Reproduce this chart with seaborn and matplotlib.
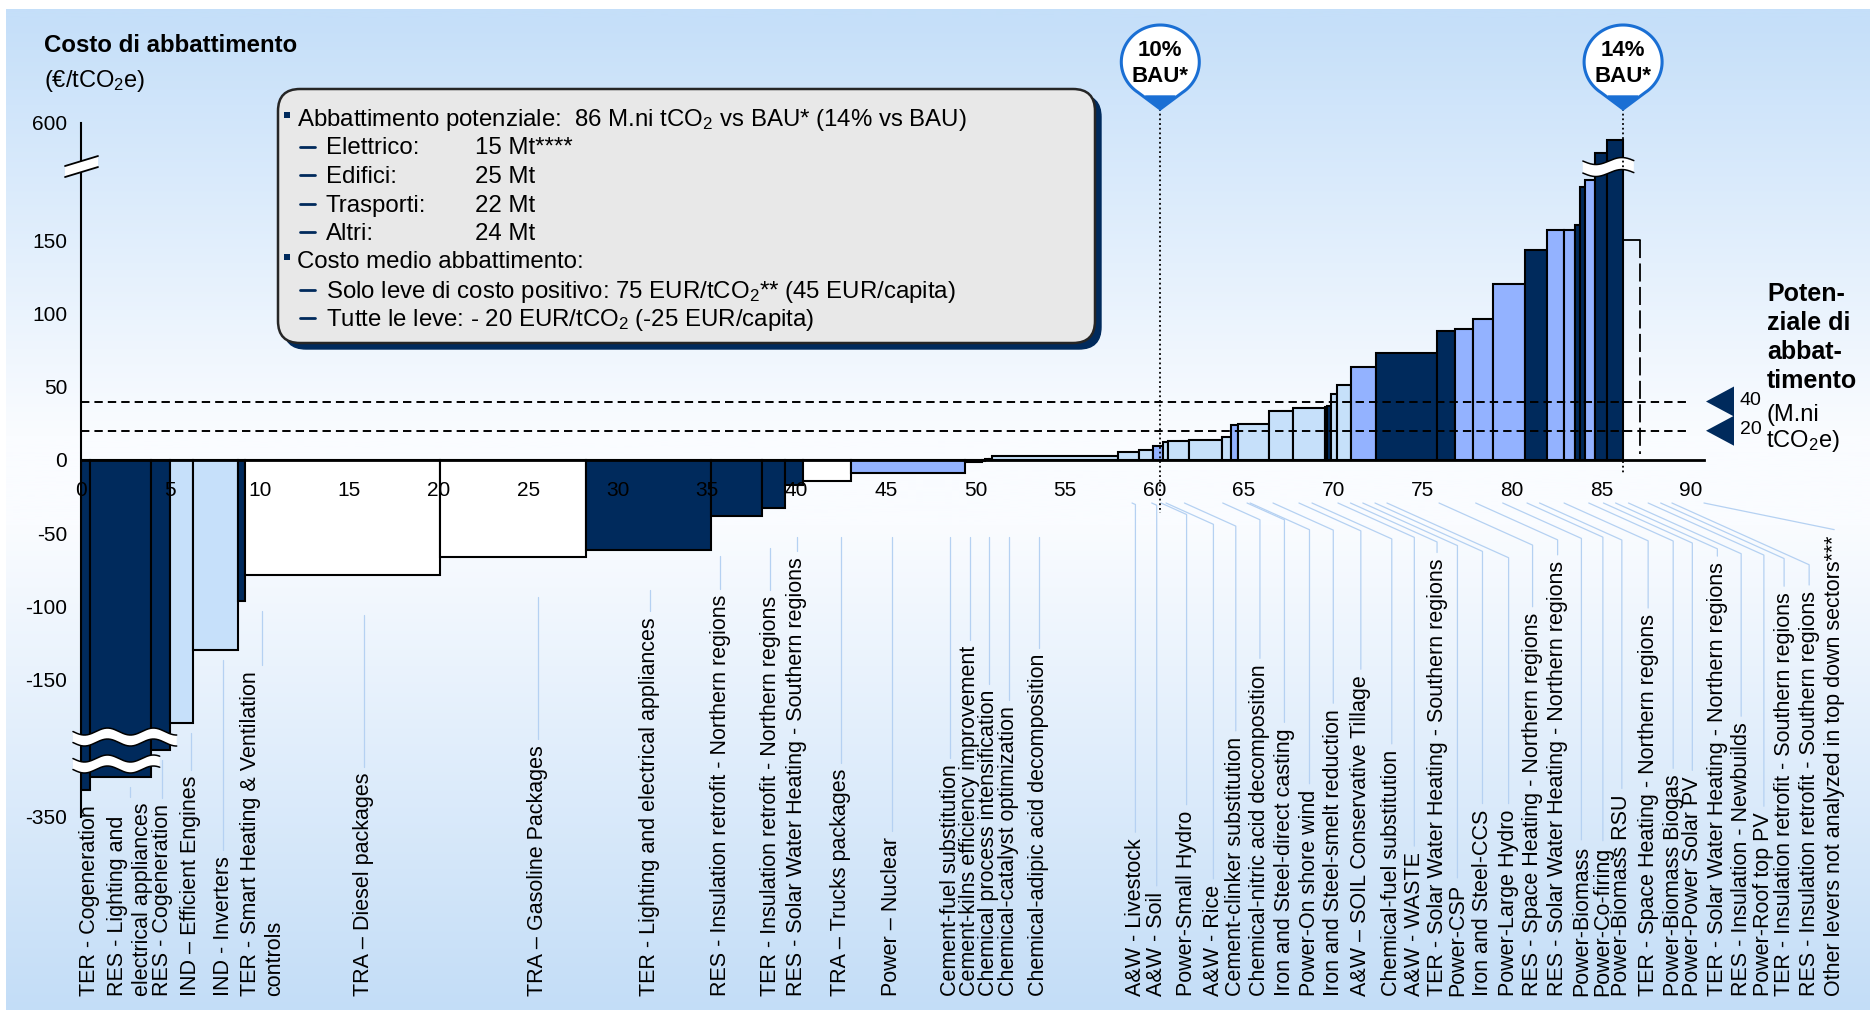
# -*- coding: utf-8 -*-
"""
Curva dei costi di abbattimento (MACC) - ricostruzione con seaborn/matplotlib
"""
import numpy as np
import matplotlib
matplotlib.use('Agg')
import matplotlib.pyplot as plt
import seaborn as sns
from matplotlib.patches import Polygon, FancyBboxPatch, Rectangle

# ============================================================
# 0. stile
# ============================================================
sns.set_theme(style='white', rc={'axes.edgecolor': 'black', 'text.color': 'black',
                                 'xtick.color': 'black', 'ytick.color': 'black'})
plt.rcParams['font.family'] = ['Liberation Sans', 'DejaVu Sans']
plt.rcParams['mathtext.fontset'] = 'custom'
plt.rcParams['mathtext.rm'] = 'Liberation Sans'
plt.rcParams['mathtext.it'] = 'Liberation Sans:italic'
plt.rcParams['mathtext.bf'] = 'Liberation Sans:bold'
plt.rcParams['axes.unicode_minus'] = False

# ============================================================
# 1. dati
# ============================================================
levers = [
    'TER - Cogeneration', 'RES - Lighting and\nelectrical appliances', 'RES - Cogeneration',
    'IND – Efficient Engines', 'IND - Inverters', 'TER - Smart Heating & Ventilation\ncontrols',
    'TRA – Diesel packages', 'TRA – Gasoline Packages', 'TER - Lighting and electrical appliances',
    'RES - Insulation retrofit - Northern regions', 'TER - Insulation retrofit - Northern regions',
    'RES - Solar Water Heating - Southern regions', 'TRA – Trucks packages', 'Power – Nuclear',
    'Cement-fuel substitution', 'Cement-kilns efficiency improvement',
    'Chemical process intensification', 'Chemical-catalyst optimization',
    'Chemical-adipic acid decomposition', 'A&W - Livestock', 'A&W - Soil', 'Power-Small Hydro',
    'A&W - Rice', 'Cement-clinker substitution', 'Chemical-nitric acid decomposition',
    'Iron and Steel-direct casting', 'Power-On shore wind', 'Iron and Steel-smelt reduction',
    'A&W – SOIL Conservative Tillage', 'Chemical-fuel substitution', 'A&W - WASTE',
    'TER - Solar Water Heating - Southern regions', 'Power-CSP', 'Iron and Steel-CCS',
    'Power-Large Hydro', 'RES - Space Heating - Northern regions',
    'RES - Solar Water Heating - Northern regions', 'Power-Biomass', 'Power-Co-firing',
    'Power-Biomass RSU', 'TER - Space Heating - Northern regions', 'Power-Biomass Biogas',
    'Power-Power Solar PV', 'TER - Solar Water Heating - Northern regions',
    'RES - Insulation - Newbuilds', 'Power-Roof top PV',
    'TER - Insulation retrofit - Southern regions', 'RES - Insulation retrofit - Southern regions',
    'Other levers not analyzed in top down sectors***',
]
# potenziale (M.ni tCO2e) di ogni leva
widths = [0.5, 3.4, 1.07, 1.31, 2.48, 0.41, 10.9, 8.16, 6.99, 2.83, 1.3, 1.03, 2.66, 6.37,
          0.94, 0.2, 0.2, 0.15, 7.08, 1.18, 0.74, 0.56, 0.29, 1.18, 1.87, 0.47, 0.42, 1.73,
          1.31, 1.8, 0.1, 0.27, 0.29, 0.78, 1.41, 3.43, 0.99, 0.99, 1.12, 1.8, 1.22, 0.97,
          0.63, 0.26, 0.28, 0.56, 0.65, 0.92, 0.93]
# costo di abbattimento (EUR/tCO2e)
costs = [-295, -270, -215, -180, -130, -96.5, -79, -66.6, -61.6, -38.3, -32.6, -17.1, -14.4,
         -8.7, -1.6, -0.8, 0.5, 1.0, 2.7, 5.5, 6.6, 9.6, 12.5, 13.0, 13.9, 15.5, 23.9, 24.8,
         33.7, 35.3, 36.0, 36.9, 45.3, 51.3, 63.8, 73.0, 88.2, 89.8, 96.4, 120.4, 143.4, 157.3,
         157.3, 160.7, 186.5, 191.5, 335, 450, 150.5]
tones = ['dark', 'dark', 'dark', 'light', 'light', 'dark', 'white', 'white', 'dark', 'dark',
         'dark', 'dark', 'white', 'mid', 'light', 'light', 'light', 'light', 'light', 'light',
         'light', 'mid', 'light', 'light', 'light', 'light', 'mid', 'light', 'light', 'light',
         'light', 'dark', 'light', 'light', 'mid', 'dark', 'dark', 'mid', 'mid', 'mid', 'dark',
         'mid', 'mid', 'dark', 'dark', 'mid', 'dark', 'dark', 'other']

y_ticks = [600, 150, 100, 50, 0, -50, -100, -150, -350]
x_ticks = list(range(0, 95, 5))
potential_marks = [40, 20]
bau_pct = ['10%', '14%']
bau_x = [60.33, 86.2]

box_head = ['Abbattimento potenziale:  86 M.ni tCO$_2$ vs BAU* (14% vs BAU)',
            'Costo medio abbattimento:']
box_sectors = ['Elettrico:', 'Edifici:', 'Trasporti:', 'Altri:']
box_mt = ['15 Mt****', '25 Mt', '22 Mt', '24 Mt']
box_costs = ['Solo leve di costo positivo: 75 EUR/tCO$_2$** (45 EUR/capita)',
             'Tutte le leve: - 20 EUR/tCO$_2$ (-25 EUR/capita)']

# ============================================================
# 2. layout
# ============================================================
W, H = 1870, 1010
AX_L, AX_R, AX_T, AX_B = 81, 1703.6, 123, 817
K_TOP, K_BOT = 30.5 / 400, 54.2 / 160
DARK, MID, LIGHT = '#002a5c', '#93b2ff', '#c6e0fa'
BLUE = '#1a6fd4'
LEADER = '#b5d1f2'
TONE = {'dark': DARK, 'mid': MID, 'light': LIGHT, 'white': 'white', 'other': 'none'}

# posizione (in M.ni t) delle etichette ruotate e attacco delle linee guida
label_x = [0.47, 2.74, 4.54, 6.14, 7.94, 10.14, 15.8, 25.54, 31.8, 35.74, 38.54, 40.0, 42.47,
           45.33, 48.6, 49.67, 50.74, 51.87, 53.54, 58.94, 60.13, 61.8, 63.3, 64.55, 65.9,
           67.27, 68.67, 70.0, 71.54, 73.27, 74.53, 75.8, 76.94, 78.34, 79.8, 81.14, 82.54,
           83.87, 85.07, 86.13, 87.6, 89.0, 90.07, 91.47, 92.8, 94.07, 95.2, 96.6, 98.0]
leader_x0 = [58.75, 59.85, 60.37, 60.65, 61.68, 63.82, 65.18, 65.35, 66.63, 68.08, 68.81,
             70.26, 70.96, 71.65, 72.33, 73.0, 75.91, 77.96, 79.47, 80.83, 81.53, 82.9, 84.28,
             85.1, 85.78, 86.5, 87.6, 88.3, 88.93, 90.72]
N_LEFT = 19


def fwd(v):
    v = np.asarray(v, dtype=float)
    return np.where(v > 200, 200 + (v - 200) * K_TOP,
                    np.where(v < -190, -190 + (v + 190) * K_BOT, v))


def inv(t):
    t = np.asarray(t, dtype=float)
    return np.where(t > 200, 200 + (t - 200) / K_TOP,
                    np.where(t < -190, -190 + (t + 190) / K_BOT, t))


fig = plt.figure(figsize=(W / 100, H / 100), dpi=100)
fig.patch.set_facecolor('white')

# sfondo sfumato
bg = fig.add_axes([0, 0, 1, 1], zorder=0)
ys = np.arange(H)
stops_y = [9, 430, 520, 1010]
stops_c = np.array([(197, 223, 249), (250, 252, 255), (250, 252, 255), (195, 221, 247)]) / 255
grad = np.stack([np.interp(ys, stops_y, stops_c[:, k]) for k in range(3)], axis=-1)[:, None, :]
bg.imshow(grad, extent=[6, W, H, 9], aspect='auto')
bg.set_xlim(0, W)
bg.set_ylim(H, 0)
bg.axis('off')

# ============================================================
# 3. grafico principale
# ============================================================
ax = fig.add_axes([AX_L / W, 1 - AX_B / H, (AX_R - AX_L) / W, (AX_B - AX_T) / H], zorder=1)
ax.patch.set_alpha(0)
ax.set_axisbelow(False)
ax.set_yscale('function', functions=(fwd, inv))
ax.set_xlim(0, 90.7)
ax.set_ylim(-350, 600)

widths_a = np.array(widths)
costs_a = np.array(costs)
starts = np.concatenate([[0], np.cumsum(widths_a)[:-1]])
keep = np.array([t != 'other' for t in tones])
ax.bar(starts[keep], costs_a[keep], width=widths_a[keep], align='edge',
       color=[TONE[t] for t in np.array(tones)[keep]], edgecolor='black', linewidth=1.5, zorder=2)

# altre leve: riquadro tratteggiato
io = tones.index('other')
ox0, ox1, oc = starts[io], starts[io] + widths[io], costs[io]
ax.plot([ox0, ox1], [oc, oc], color='black', lw=1.3, zorder=3)
ax.plot([ox1, ox1], [oc, 4], color='black', lw=1.3, dashes=(10, 3), zorder=3)

ax.hlines(potential_marks, 0, 89.8, colors='black', linestyles=(0, (4.3, 2.6)),
          linewidth=1.4, zorder=3)

sns.despine(ax=ax, top=True, right=True)
ax.spines['bottom'].set_position(('data', 0))
ax.spines['bottom'].set_linewidth(2.0)
ax.spines['left'].set_linewidth(1.5)
ax.set_xticks(x_ticks)
ax.set_xticklabels([str(v) for v in x_ticks])
ax.set_yticks(y_ticks)
ax.set_yticklabels([str(v) for v in y_ticks])
ax.tick_params(axis='x', length=0, pad=15, labelsize=15)
ax.tick_params(axis='y', length=0, pad=10, labelsize=15)
ax.minorticks_off()
ax.grid(False)

# ============================================================
# 4. annotazioni (coordinate in pixel)
# ============================================================
ov = fig.add_axes([0, 0, 1, 1], zorder=3)
ov.set_xlim(0, W)
ov.set_ylim(H, 0)
ov.axis('off')


def to_px(x, v):
    dx, dy = ax.transData.transform((x, v))
    return dx, H - dy


# titolo asse
ov.text(44, 45, 'Costo di abbattimento', fontsize=17.3, fontweight='bold', va='center')
ov.text(44, 87, '(€/tCO$_2$e)', fontsize=17, va='baseline')

# interruzioni dell'asse e delle barre
ax0, yb = to_px(0, 205)
ov.add_patch(Polygon([(ax0 - 16, yb - 1), (ax0 + 17, yb - 11), (ax0 + 17, yb),
                      (ax0 - 16, yb + 10)], closed=True, facecolor='white', edgecolor='none'))
ov.plot([ax0 - 16, ax0 + 17], [yb - 1, yb - 11], color='black', lw=1.3)
ov.plot([ax0 - 16, ax0 + 17], [yb + 10, yb], color='black', lw=1.3)


def wave_band(xa, xb, v, thick=11, period=46, amp=3.5):
    pa, yc = to_px(xa, v)
    pb, _ = to_px(xb, v)
    xs = np.linspace(pa, pb, 150)
    off = amp * np.sin(2 * np.pi * (xs - pa) / period)
    top = yc - thick / 2 + off
    bot = yc + thick / 2 + off
    poly = np.column_stack([np.r_[xs, xs[::-1]], np.r_[top, bot[::-1]]])
    ov.add_patch(Polygon(poly, closed=True, facecolor='white', edgecolor='none', zorder=4))
    ov.plot(xs, top, color='black', lw=1.1, zorder=4.5)
    ov.plot(xs, bot, color='black', lw=1.1, zorder=4.5)


wave_band(-0.45, 5.35, -189.5)
wave_band(-0.45, 4.4, -243)
wave_band(83.95, 86.8, 205, thick=12, period=52)

# riquadro riassuntivo
ov.add_patch(FancyBboxPatch((284, 95), 817, 254, boxstyle='round,pad=0,rounding_size=22',
                            facecolor=DARK, edgecolor=DARK, lw=1, zorder=4))
ov.add_patch(FancyBboxPatch((278, 89), 817, 254, boxstyle='round,pad=0,rounding_size=22',
                            facecolor='#e8e8e8', edgecolor='#262626', lw=1.8, zorder=4.2))
row_y = [117, 145.5, 174, 203, 231, 259, 289, 317]
BOX_FS = 17.3


def bullet(y):
    ov.add_patch(Rectangle((284, y - 5), 5.5, 5.5, facecolor=DARK, edgecolor='none', zorder=5))


def dash(y):
    ov.plot([300, 315], [y + 1, y + 1], color=DARK, lw=2.0, zorder=5)


bullet(row_y[0])
ov.text(297, row_y[0] + 9, box_head[0], fontsize=BOX_FS, va='baseline', zorder=5)
for k, (sec, mt) in enumerate(zip(box_sectors, box_mt)):
    y = row_y[1 + k]
    dash(y)
    ov.text(326, y + 9, sec, fontsize=BOX_FS, va='baseline', zorder=5)
    ov.text(475, y + 9, mt, fontsize=BOX_FS, va='baseline', zorder=5)
bullet(row_y[5])
ov.text(297, row_y[5] + 9, box_head[1], fontsize=BOX_FS, va='baseline', zorder=5)
for k, txt in enumerate(box_costs):
    y = row_y[6 + k]
    dash(y)
    ov.text(326, y + 9, txt, fontsize=BOX_FS, va='baseline', zorder=5)

# marcatori BAU
bau_bottom = [-36, -9]
for pct, bx, bv in zip(bau_pct, bau_x, bau_bottom):
    cx, yend = to_px(bx, bv)
    ov.plot([cx, cx], [109, yend], color='black', lw=1.3, linestyle=(0, (1, 1.6)), zorder=5)
    cy, rx, ry = 62, 39, 37
    th = np.radians(np.linspace(-55, 235, 90))
    px = np.r_[cx + rx * np.cos(th), cx]
    py = np.r_[cy - ry * np.sin(th), 109]
    ov.add_patch(Polygon(np.column_stack([px, py]), closed=True, facecolor='white',
                         edgecolor=BLUE, lw=2.2, zorder=6))
    ov.add_patch(Polygon([(cx - 15, 96), (cx + 15, 96), (cx, 109)], closed=True,
                         facecolor=BLUE, edgecolor=BLUE, lw=1, zorder=7))
    ov.text(cx, 51, pct, fontsize=16, fontweight='bold', ha='center', va='center', zorder=7)
    ov.text(cx, 76, 'BAU*', fontsize=16, fontweight='bold', ha='center', va='center', zorder=7)

# potenziale di abbattimento (destra)
for k, line in enumerate(['Poten-', 'ziale di', 'abbat-', 'timento']):
    ov.text(1767, 294 + 29 * k, line, fontsize=18, fontweight='bold', va='center')
for m in potential_marks:
    _, ym = to_px(0, m)
    ov.add_patch(Polygon([(1706, ym), (1734, ym - 15), (1734, ym + 15)], closed=True,
                         facecolor=DARK, edgecolor='none'))
    ov.text(1740, ym - 1, str(m), fontsize=14, va='center')
_, y40 = to_px(0, potential_marks[0])
_, y20 = to_px(0, potential_marks[1])
ov.text(1766, y40 + 13, '(M.ni', fontsize=17, va='center')
ov.text(1766, y20 + 10, 'tCO$_2$e)', fontsize=17, va='center')

# etichette delle leve
LABEL_BASE = 996
label_texts = []
for name, lx in zip(levers, label_x):
    px_, _ = to_px(lx, 0)
    label_texts.append(ov.text(px_, LABEL_BASE, name, rotation=90, ha='center', va='bottom',
                               fontsize=15.5, multialignment='left'))

fig.canvas.draw()
rend = fig.canvas.get_renderer()
for i, t in enumerate(label_texts):
    bb = t.get_window_extent(renderer=rend)
    top = H - bb.y1 - 6
    lx = (bb.x0 + bb.x1) / 2
    if i < N_LEFT:
        _, bottom = to_px(starts[i] + widths[i] / 2, min(costs[i], 0))
        start = bottom + (40 if bottom < 600 else 10)
        start = max(start, 537)
        if start < top:
            ov.plot([lx, lx], [start, top], color=LEADER, lw=0.9, zorder=2)
    else:
        x0, _ = to_px(leader_x0[i - N_LEFT], 0)
        y0 = 503
        yk = min(y0 + 0.45 * abs(lx - x0), top)
        ov.plot([x0, lx, lx], [y0, yk, top], color=LEADER, lw=0.9, zorder=2)

fig.savefig('out.png', dpi=100, facecolor=fig.get_facecolor())
